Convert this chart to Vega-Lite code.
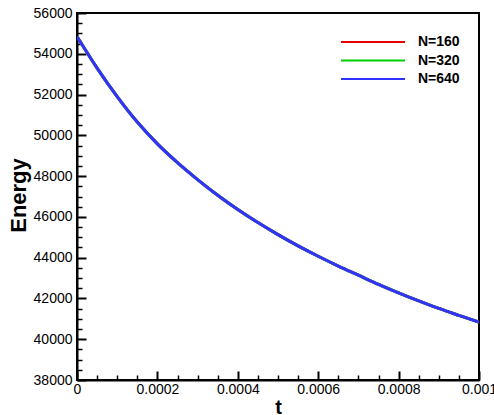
{
  "$schema": "https://vega.github.io/schema/vega-lite/v6.json",
  "width": 402,
  "height": 367,
  "autosize": {"type": "none"},
  "padding": {"left": 77, "top": 13, "right": 15, "bottom": 35},
  "background": "white",
  "config": {
    "view": {"stroke": "black", "strokeWidth": 2},
    "font": "Liberation Sans"
  },
  "data": {
    "values": [
      {"N": "N=160", "t": 0, "E": 54850}, {"N": "N=160", "t": 0.00005, "E": 53300}, {"N": "N=160", "t": 0.0001, "E": 51900},
      {"N": "N=160", "t": 0.00015, "E": 50650}, {"N": "N=160", "t": 0.0002, "E": 49580}, {"N": "N=160", "t": 0.00025, "E": 48660},
      {"N": "N=160", "t": 0.0003, "E": 47830}, {"N": "N=160", "t": 0.00035, "E": 47060}, {"N": "N=160", "t": 0.0004, "E": 46360},
      {"N": "N=160", "t": 0.00045, "E": 45720}, {"N": "N=160", "t": 0.0005, "E": 45130}, {"N": "N=160", "t": 0.00055, "E": 44580},
      {"N": "N=160", "t": 0.0006, "E": 44070}, {"N": "N=160", "t": 0.00065, "E": 43590}, {"N": "N=160", "t": 0.0007, "E": 43140},
      {"N": "N=160", "t": 0.00075, "E": 42690}, {"N": "N=160", "t": 0.0008, "E": 42270}, {"N": "N=160", "t": 0.00085, "E": 41880},
      {"N": "N=160", "t": 0.0009, "E": 41510}, {"N": "N=160", "t": 0.00095, "E": 41170}, {"N": "N=160", "t": 0.001, "E": 40840},
      {"N": "N=320", "t": 0, "E": 54850}, {"N": "N=320", "t": 0.00005, "E": 53300}, {"N": "N=320", "t": 0.0001, "E": 51900},
      {"N": "N=320", "t": 0.00015, "E": 50650}, {"N": "N=320", "t": 0.0002, "E": 49580}, {"N": "N=320", "t": 0.00025, "E": 48660},
      {"N": "N=320", "t": 0.0003, "E": 47830}, {"N": "N=320", "t": 0.00035, "E": 47060}, {"N": "N=320", "t": 0.0004, "E": 46360},
      {"N": "N=320", "t": 0.00045, "E": 45720}, {"N": "N=320", "t": 0.0005, "E": 45130}, {"N": "N=320", "t": 0.00055, "E": 44580},
      {"N": "N=320", "t": 0.0006, "E": 44070}, {"N": "N=320", "t": 0.00065, "E": 43590}, {"N": "N=320", "t": 0.0007, "E": 43140},
      {"N": "N=320", "t": 0.00075, "E": 42690}, {"N": "N=320", "t": 0.0008, "E": 42270}, {"N": "N=320", "t": 0.00085, "E": 41880},
      {"N": "N=320", "t": 0.0009, "E": 41510}, {"N": "N=320", "t": 0.00095, "E": 41170}, {"N": "N=320", "t": 0.001, "E": 40840},
      {"N": "N=640", "t": 0, "E": 54850}, {"N": "N=640", "t": 0.00005, "E": 53300}, {"N": "N=640", "t": 0.0001, "E": 51900},
      {"N": "N=640", "t": 0.00015, "E": 50650}, {"N": "N=640", "t": 0.0002, "E": 49580}, {"N": "N=640", "t": 0.00025, "E": 48660},
      {"N": "N=640", "t": 0.0003, "E": 47830}, {"N": "N=640", "t": 0.00035, "E": 47060}, {"N": "N=640", "t": 0.0004, "E": 46360},
      {"N": "N=640", "t": 0.00045, "E": 45720}, {"N": "N=640", "t": 0.0005, "E": 45130}, {"N": "N=640", "t": 0.00055, "E": 44580},
      {"N": "N=640", "t": 0.0006, "E": 44070}, {"N": "N=640", "t": 0.00065, "E": 43590}, {"N": "N=640", "t": 0.0007, "E": 43140},
      {"N": "N=640", "t": 0.00075, "E": 42690}, {"N": "N=640", "t": 0.0008, "E": 42270}, {"N": "N=640", "t": 0.00085, "E": 41880},
      {"N": "N=640", "t": 0.0009, "E": 41510}, {"N": "N=640", "t": 0.00095, "E": 41170}, {"N": "N=640", "t": 0.001, "E": 40840}
    ]
  },
  "mark": {"type": "line", "strokeWidth": 3, "interpolate": "monotone", "clip": true},
  "encoding": {
    "x": {
      "field": "t",
      "type": "quantitative",
      "scale": {"domain": [0, 0.001], "nice": false, "zero": false},
      "axis": {
        "values": [0, 0.00005, 0.0001, 0.00015, 0.0002, 0.00025, 0.0003, 0.00035, 0.0004, 0.00045, 0.0005, 0.00055, 0.0006, 0.00065, 0.0007, 0.00075, 0.0008, 0.00085, 0.0009, 0.00095, 0.001],
        "labelExpr": "round(datum.value*100000) % 20 === 0 ? format(datum.value, '.4~f') : ''",
        "labelFontSize": 14,
        "labelColor": "black",
        "labelPadding": 11,
        "labelFlush": false,
        "labelBound": false,
        "labelOverlap": false,
        "tickSize": {"condition": {"test": "round(datum.value*100000) % 20 === 0", "value": -9}, "value": -5},
        "tickWidth": {"condition": {"test": "round(datum.value*100000) % 20 === 0", "value": 2}, "value": 1.5},
        "tickColor": "black",
        "domainColor": "black",
        "domainWidth": 2,
        "grid": false,
        "title": "t",
        "titleFontSize": 20,
        "titleFontWeight": "bold",
        "titleColor": "black",
        "titleX": 201,
        "titleY": 33,
        "titleAlign": "center",
        "titleBaseline": "alphabetic"
      }
    },
    "y": {
      "field": "E",
      "type": "quantitative",
      "scale": {"domain": [38000, 56000], "nice": false, "zero": false},
      "axis": {
        "values": [38000, 38500, 39000, 39500, 40000, 40500, 41000, 41500, 42000, 42500, 43000, 43500, 44000, 44500, 45000, 45500, 46000, 46500, 47000, 47500, 48000, 48500, 49000, 49500, 50000, 50500, 51000, 51500, 52000, 52500, 53000, 53500, 54000, 54500, 55000, 55500, 56000],
        "labelExpr": "datum.value % 2000 === 0 ? format(datum.value, 'd') : ''",
        "labelFontSize": 14,
        "labelColor": "black",
        "labelPadding": 14,
        "labelFlush": false,
        "labelBound": false,
        "labelOverlap": false,
        "tickSize": {"condition": {"test": "datum.value % 2000 === 0", "value": -9}, "value": -5},
        "tickWidth": {"condition": {"test": "datum.value % 2000 === 0", "value": 2}, "value": 1.5},
        "tickColor": "black",
        "domainColor": "black",
        "domainWidth": 2,
        "grid": false,
        "title": "Energy",
        "titleFontSize": 22,
        "titleFontWeight": "bold",
        "titleColor": "black",
        "titleAngle": -90,
        "titleX": -52,
        "titleY": 182,
        "titleAlign": "center",
        "titleBaseline": "alphabetic"
      }
    },
    "color": {
      "field": "N",
      "type": "nominal",
      "scale": {"domain": ["N=160", "N=320", "N=640"], "range": ["#e60000", "#00d000", "#3232ff"]},
      "legend": {
        "orient": "none",
        "legendX": 289,
        "legendY": 22,
        "title": null,
        "padding": 0,
        "rowPadding": 4.5,
        "symbolType": "M-6.4,0H6.4",
        "symbolSize": 100,
        "symbolStrokeWidth": 2,
        "labelFontSize": 14,
        "labelFontWeight": "bold",
        "labelColor": "black",
        "labelOffset": 38
      }
    }
  }
}
